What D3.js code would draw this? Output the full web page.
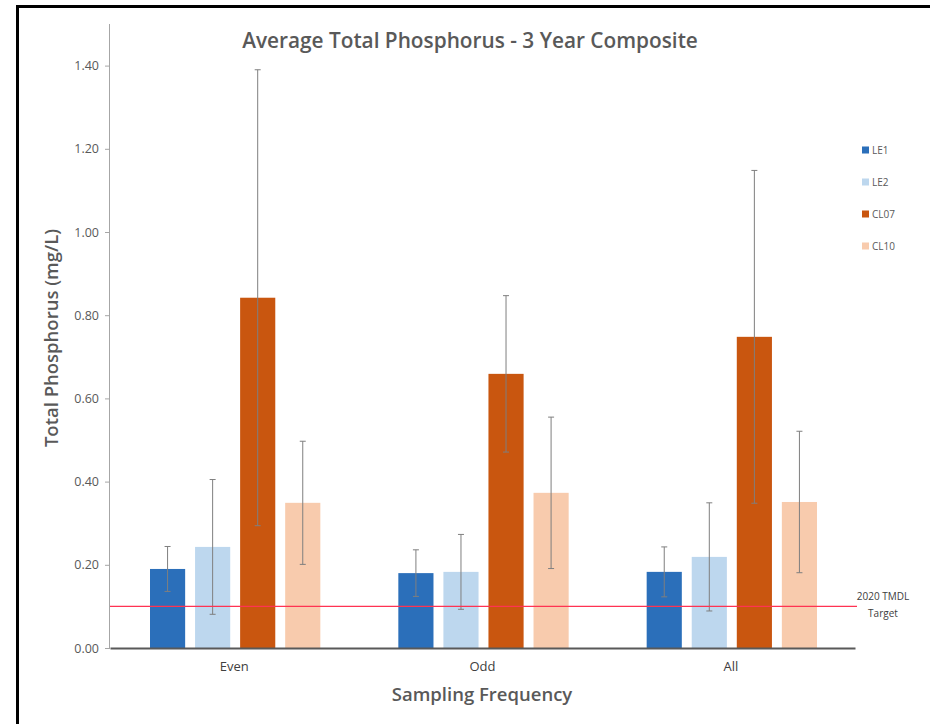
<!DOCTYPE html>
<html>
<head>
<meta charset="utf-8">
<script src="https://cdn.jsdelivr.net/npm/d3@7"></script>
<style>
  body { margin: 0; background: #fff; }
  svg { font-family: "Open Sans", Lato, sans-serif; }
</style>
</head>
<body>
<svg id="chart" width="930" height="724"></svg>
<script>
const groups = ["Even", "Odd", "All"];
const sites = ["LE1", "LE2", "CL07", "CL10"];
const colors = ["#2b6fba", "#bdd7ee", "#c9560f", "#f8cbad"];
// mean values per site, one entry per group (Even, Odd, All)
const le1 = [0.19, 0.18, 0.183];
const le2 = [0.243, 0.183, 0.219];
const cl07 = [0.842, 0.659, 0.748];
const cl10 = [0.349, 0.373, 0.351];
// +/- error per site
const le1Err = [0.054, 0.056, 0.06];
const le2Err = [0.162, 0.09, 0.13];
const cl07Err = [0.548, 0.188, 0.40];
const cl10Err = [0.148, 0.182, 0.17];
const yTicks = [0, 0.2, 0.4, 0.6, 0.8, 1.0, 1.2, 1.4];
const target = 0.10;

const values = [le1, le2, cl07, cl10];
const errors = [le1Err, le2Err, cl07Err, cl10Err];

const margin = { top: 24, right: 75, bottom: 76, left: 110 },
  width = 930 - margin.left - margin.right,
  height = 724 - margin.top - margin.bottom;

const svg = d3.select("#chart");

// frame lines
svg.append("rect").attr("x", 16).attr("y", 5).attr("width", 930).attr("height", 3).attr("fill", "#000");
svg.append("rect").attr("x", 16).attr("y", 5).attr("width", 3).attr("height", 724).attr("fill", "#000");

const g = svg.append("g").attr("transform", `translate(${margin.left},${margin.top})`);

const y = d3.scaleLinear().domain([0, 1.5]).range([height, 0]);
const x0 = d3.scaleBand().domain(groups).range([0, width]);
const x1 = d3.scaleBand().domain(sites).range([40, x0.bandwidth() - 38]).paddingInner(0.22);

// y axis
const yAxis = g.append("g").call(d3.axisLeft(y).tickValues(yTicks).tickFormat(d3.format(".2f")).tickSize(5).tickPadding(6));
yAxis.select(".domain").attr("stroke", "#a6a6a6").attr("d", `M-0.5,${height}V0`);
yAxis.selectAll(".tick line").attr("stroke", "#a6a6a6");
yAxis.selectAll(".tick text").attr("fill", "#595959").style("font-size", "12.5px").style("font-family", "'Open Sans', sans-serif");

// bars
const grp = g.selectAll(".grp").data(groups).join("g")
  .attr("class", "grp")
  .attr("transform", d => `translate(${x0(d)},0)`);

grp.selectAll("rect").data((d, gi) => sites.map((s, si) => ({ s, si, v: values[si][gi], e: errors[si][gi] })))
  .join("rect")
  .attr("x", d => x1(d.s))
  .attr("y", d => y(d.v))
  .attr("width", x1.bandwidth())
  .attr("height", d => height - y(d.v))
  .attr("fill", d => colors[d.si]);

// error bars
const eb = grp.selectAll(".err").data((d, gi) => sites.map((s, si) => ({ s, si, v: values[si][gi], e: errors[si][gi] })))
  .join("g").attr("class", "err");
eb.append("line")
  .attr("x1", d => x1(d.s) + x1.bandwidth() / 2)
  .attr("x2", d => x1(d.s) + x1.bandwidth() / 2)
  .attr("y1", d => y(d.v + d.e))
  .attr("y2", d => y(d.v - d.e))
  .attr("stroke", "#7f7f7f").attr("stroke-width", 1);
eb.append("line")
  .attr("x1", d => x1(d.s) + x1.bandwidth() / 2 - 3)
  .attr("x2", d => x1(d.s) + x1.bandwidth() / 2 + 3)
  .attr("y1", d => y(d.v + d.e))
  .attr("y2", d => y(d.v + d.e))
  .attr("stroke", "#7f7f7f");
eb.append("line")
  .attr("x1", d => x1(d.s) + x1.bandwidth() / 2 - 3)
  .attr("x2", d => x1(d.s) + x1.bandwidth() / 2 + 3)
  .attr("y1", d => y(d.v - d.e))
  .attr("y2", d => y(d.v - d.e))
  .attr("stroke", "#7f7f7f");

// x axis
const xAxis = g.append("g").attr("transform", `translate(0,${height})`)
  .call(d3.axisBottom(x0).tickSize(0).tickPadding(14));
xAxis.select(".domain").attr("stroke", "#595959").attr("stroke-width", 2);
xAxis.selectAll(".tick text").attr("fill", "#404040").style("font-size", "13px").style("font-family", "'Open Sans', sans-serif");

// target line
g.append("line")
  .attr("x1", 0).attr("x2", width + 2)
  .attr("y1", y(target)).attr("y2", y(target))
  .attr("stroke", "#ff3352").attr("stroke-width", 1.2);
g.append("text").attr("x", width + 28).attr("y", y(target) - 6)
  .attr("text-anchor", "middle").attr("fill", "#404040").style("font-size", "10px")
  .text("2020 TMDL");
g.append("text").attr("x", width + 28).attr("y", y(target) + 11)
  .attr("text-anchor", "middle").attr("fill", "#404040").style("font-size", "10px")
  .text("Target");

// legend
const legend = svg.append("g").attr("transform", "translate(862,150)");
sites.forEach((s, i) => {
  const row = legend.append("g").attr("transform", `translate(0,${i * 32})`);
  row.append("rect").attr("x", 0).attr("y", -3.5).attr("width", 7).attr("height", 7).attr("fill", colors[i]);
  row.append("text").attr("x", 10).attr("y", 0).attr("dy", "0.35em")
    .attr("fill", "#595959").style("font-size", "10px").text(s);
});

// titles
svg.append("text").attr("x", 470).attr("y", 48).attr("text-anchor", "middle")
  .attr("fill", "#595959").style("font-size", "20.8px").style("font-weight", "600")
  .text("Average Total Phosphorus - 3 Year Composite");

svg.append("text").attr("x", 482).attr("y", 701).attr("text-anchor", "middle")
  .attr("fill", "#595959").style("font-size", "18.5px").style("font-weight", "600")
  .text("Sampling Frequency");

svg.append("text").attr("transform", "translate(58,338) rotate(-90)").attr("text-anchor", "middle")
  .attr("fill", "#595959").style("font-size", "18.5px").style("font-weight", "600")
  .text("Total Phosphorus (mg/L)");
</script>
</body>
</html>
